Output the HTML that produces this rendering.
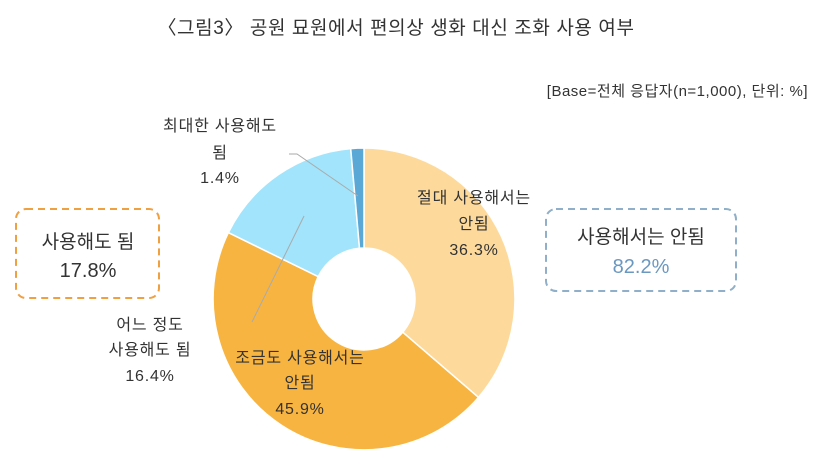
<!DOCTYPE html>
<html><head><meta charset="utf-8"><style>
body{margin:0;background:#fff;}
svg text{font-family:"Liberation Sans","Noto Sans CJK KR",sans-serif;fill:#333;}
</style></head><body>
<svg width="819" height="462" viewBox="0 0 819 462" xmlns="http://www.w3.org/2000/svg">
<rect width="819" height="462" fill="#fff"/>
<text x="396" y="34" font-size="19" letter-spacing="0.6" text-anchor="middle">〈그림3〉 공원 묘원에서 편의상 생화 대신 조화 사용 여부</text>
<text x="808" y="96" font-size="15" letter-spacing="0.5" text-anchor="end">[Base=전체 응답자(n=1,000), 단위: %]</text>
<g stroke="#fff" stroke-width="1.5">
<path d="M364 148 A151 151 0 0 1 478.5 397.4 L402.7 332.2 A51 51 0 0 0 364 248 Z" fill="#FDDA9B"/>
<path d="M478.5 397.4 A151 151 0 0 1 228.4 232.6 L318.2 276.6 A51 51 0 0 0 402.7 332.2 Z" fill="#F8B440"/>
<path d="M228.4 232.6 A151 151 0 0 1 350.7 148.6 L359.5 248.2 A51 51 0 0 0 318.2 276.6 Z" fill="#A2E4FB"/>
<path d="M350.7 148.6 A151 151 0 0 1 364 148 L364 248 A51 51 0 0 0 359.5 248.2 Z" fill="#5AA8D6"/>
</g>
<polyline points="289,154 297,154 358,196" fill="none" stroke="#aaa" stroke-width="1"/>
<line x1="304" y1="216" x2="252" y2="322" stroke="#aaa" stroke-width="1"/>
<g font-size="16" letter-spacing="0.8" text-anchor="middle">
<text x="220" y="131">최대한 사용해도</text>
<text x="220" y="158">됨</text>
<text x="220" y="183">1.4%</text>
<text x="474" y="203">절대 사용해서는</text>
<text x="474" y="229">안됨</text>
<text x="474" y="255">36.3%</text>
<text x="150" y="330">어느 정도</text>
<text x="150" y="355">사용해도 됨</text>
<text x="150" y="381">16.4%</text>
<text x="300" y="363">조금도 사용해서는</text>
<text x="300" y="388">안됨</text>
<text x="300" y="414">45.9%</text>
</g>
<rect x="16" y="209" width="143" height="89" rx="10" fill="none" stroke="#F0A040" stroke-width="2" stroke-dasharray="7,5"/>
<text x="88" y="248" font-size="19" text-anchor="middle">사용해도 됨</text>
<text x="88" y="277" font-size="20" text-anchor="middle">17.8%</text>
<rect x="546" y="209" width="190" height="82" rx="10" fill="none" stroke="#8FB0C8" stroke-width="2" stroke-dasharray="7,5"/>
<text x="641" y="243" font-size="19" text-anchor="middle">사용해서는 안됨</text>
<text x="641" y="273" font-size="20" text-anchor="middle" style="fill:#6A98C0">82.2%</text>
</svg>
</body></html>
